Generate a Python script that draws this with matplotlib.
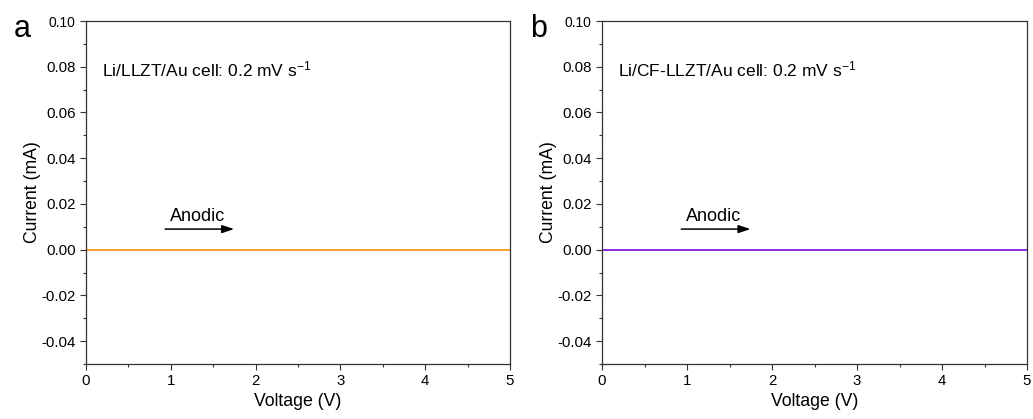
import numpy as np
import matplotlib; matplotlib.use('Agg')
import matplotlib.pyplot as plt
from matplotlib.ticker import MultipleLocator

plt.rcParams['font.family'] = ['Liberation Sans', 'DejaVu Sans']
plt.rcParams['mathtext.fontset'] = 'custom'
plt.rcParams['mathtext.rm'] = 'Liberation Sans'
plt.rcParams['mathtext.default'] = 'regular'

# LSV data: current stays flat at zero over the whole sweep
voltage = [0.0, 1.0, 2.0, 3.0, 4.0, 5.0]
current_llzt = [0.0, 0.0, 0.0, 0.0, 0.0, 0.0]
current_cf_llzt = [0.0, 0.0, 0.0, 0.0, 0.0, 0.0]
panel_letters = ['a', 'b']
cell_labels = ['Li/LLZT/Au cell: 0.2 mV s$^{-1}$', 'Li/CF-LLZT/Au cell: 0.2 mV s$^{-1}$']
ytick_vals = [-0.04, -0.02, 0.00, 0.02, 0.04, 0.06, 0.08, 0.10]
ytick_labels = ['-0.04', '-0.02', '0.00', '0.02', '0.04', '0.06', '0.08', '0.10']
colors = ['#F5A02A', '#8A2BE2']

fig = plt.figure(figsize=(10.33, 4.19), dpi=100)
W, H = 1033, 419
boxes = [(86, 21, 510, 364), (602, 21, 1027, 364)]

for k, cur in enumerate([current_llzt, current_cf_llzt]):
    l, t, r, b = boxes[k]
    ax = fig.add_axes([l / W, 1 - b / H, (r - l) / W, (b - t) / H])
    ax.plot(voltage, cur, color=colors[k], lw=1.4)
    ax.set_xlim(0, 5)
    ax.set_ylim(-0.05, 0.10)
    ax.xaxis.set_major_locator(MultipleLocator(1))
    ax.xaxis.set_minor_locator(MultipleLocator(0.5))
    ax.yaxis.set_minor_locator(MultipleLocator(0.01))
    ax.set_yticks(ytick_vals)
    ax.set_yticklabels(ytick_labels)
    ax.tick_params(which='major', direction='out', length=4, width=0.8, labelsize=10.8, color='#333333')
    ax.tick_params(which='minor', direction='out', length=2.5, width=0.8, color='#333333')
    ax.get_yticklabels()[-1].set_fontsize(10)
    for s in ax.spines.values():
        s.set_linewidth(0.9)
        s.set_color('#333333')
    ax.set_xlabel('Voltage (V)', fontsize=12.7, labelpad=3)
    ax.set_ylabel('Current (mA)', fontsize=12.7, labelpad=0)
    ax.text(0.19, 0.079, cell_labels[k], fontsize=12.5, va='center', ha='left')
    ax.annotate('', xy=(1.78, 0.009), xytext=(0.9, 0.009),
                arrowprops=dict(arrowstyle='-|>,head_length=0.6,head_width=0.2', color='black',
                                lw=1.1, mutation_scale=12))
    ax.text(0.99, 0.0145, 'Anodic', fontsize=13, va='center', ha='left')
    fig.text((l - 72) / W, 1 - 29 / H, panel_letters[k], fontsize=22, va='center', ha='left')

fig.savefig('out.png', dpi=100)
